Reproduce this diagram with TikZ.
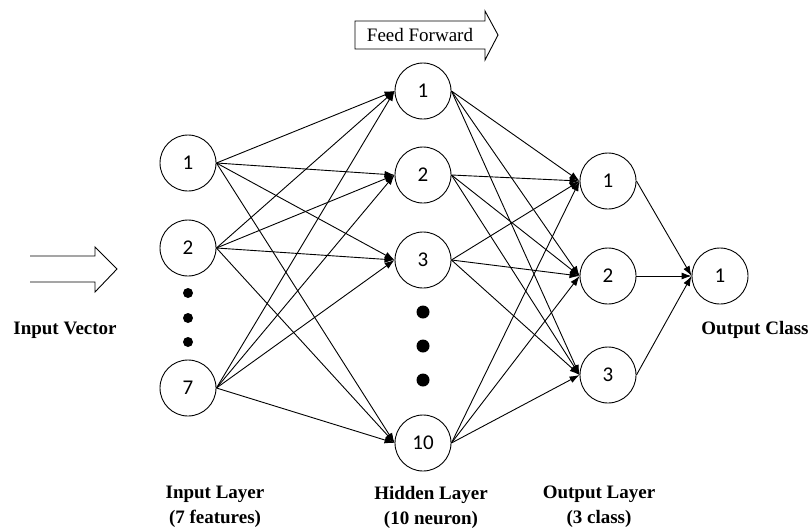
\documentclass[tikz,border=0pt]{standalone}
\usepackage{fontspec}
\setmainfont{Liberation Serif}
\newfontfamily\numfont{Carlito}
\usetikzlibrary{arrows.meta}
\begin{document}
\begin{tikzpicture}[x=1pt,y=-1pt,
  neuron/.style={circle,draw,line width=0.9pt,minimum size=56pt,inner sep=0pt,font=\numfont\fontsize{21}{25}\selectfont},
  conn/.style={line width=0.9pt,-{Latex[length=10pt,width=7pt]}},
  smalldot/.style={circle,fill,inner sep=0pt,minimum size=10pt},
  bigdot/.style={circle,fill,inner sep=0pt,minimum size=13pt},
  lbl/.style={font=\bfseries\fontsize{19}{25}\selectfont,align=center},
  fatarrow/.style={line width=0.9pt,line join=miter},
]
\useasboundingbox (0,0) rectangle (812,528);

% input layer
\node[neuron] (i1) at (188,163) {1};
\node[neuron] (i2) at (188,248) {2};
\node[neuron] (i7) at (188,388) {7};
\node[smalldot] (id1) at (188,293) {};
\node[smalldot] (id2) at (188,318) {};
\node[smalldot] (id3) at (188,342) {};

% hidden layer
\node[neuron] (h1) at (423,91) {1};
\node[neuron] (h2) at (423,175) {2};
\node[neuron] (h3) at (423,260) {3};
\node[neuron] (h10) at (423,443) {10};
\node[bigdot] (hd1) at (423,312) {};
\node[bigdot] (hd2) at (423,346) {};
\node[bigdot] (hd3) at (423,380) {};

% output layer
\node[neuron] (o1) at (608,181) {1};
\node[neuron] (o2) at (608,276) {2};
\node[neuron] (o3) at (608,375) {3};

% final output
\node[neuron] (f1) at (720,276) {1};

% connections
\foreach \a in {i1,i2,i7}
  \foreach \b in {h1,h2,h3,h10}
    \draw[conn] (\a.east) -- (\b.west);
\foreach \a in {h1,h2,h3,h10}
  \foreach \b in {o1,o2,o3}
    \draw[conn] (\a.east) -- (\b.west);
\foreach \a in {o1,o2,o3}
  \draw[conn] (\a.east) -- (f1.west);

% feed forward arrow
\draw[fatarrow] (355,21) -- (485,21) -- (485,11) -- (498,35) -- (485,60) -- (485,49) -- (355,49) -- cycle;
\node[font=\fontsize{19}{23}\selectfont] (ff) at (420,35) {Feed Forward};

% input vector arrow
\draw[fatarrow] (30,256) -- (95,256) -- (95,247) -- (117,269) -- (95,292) -- (95,282) -- (30,282);

% labels
\node[lbl] (iv) at (65,330) {Input Vector};
\node[lbl] (oc) at (755,330) {Output Class};
\node[lbl] (il) at (215,507) {Input Layer\\(7 features)};
\node[lbl] (hl) at (431,507) {Hidden Layer\\(10 neuron)};
\node[lbl] (ol) at (599,507) {Output Layer\\(3 class)};
\end{tikzpicture}
\end{document}
